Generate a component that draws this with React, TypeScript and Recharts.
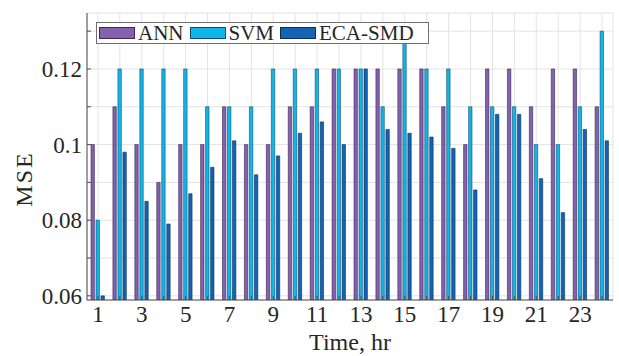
import React from 'react';
import { BarChart, Bar, XAxis, YAxis, CartesianGrid, Legend } from 'recharts';

const hours = ['1','2','3','4','5','6','7','8','9','10','11','12','13','14','15','16','17','18','19','20','21','22','23','24'];
const annValues = [0.10,0.11,0.10,0.09,0.10,0.10,0.11,0.10,0.10,0.11,0.11,0.12,0.12,0.12,0.12,0.12,0.11,0.10,0.12,0.12,0.11,0.12,0.12,0.11];
const svmValues = [0.08,0.12,0.12,0.12,0.12,0.11,0.11,0.11,0.12,0.12,0.12,0.12,0.12,0.11,0.127,0.12,0.12,0.11,0.11,0.11,0.10,0.10,0.11,0.13];
const ecaValues = [0.06,0.098,0.085,0.079,0.087,0.094,0.101,0.092,0.097,0.103,0.106,0.10,0.12,0.104,0.103,0.102,0.099,0.088,0.108,0.108,0.091,0.082,0.104,0.101];
const yTicks = [0.06,0.07,0.08,0.09,0.1,0.11,0.12,0.13];
const yTickLabels = ['0.06','','0.08','','0.1','','0.12',''];
const seriesNames = ['ANN','SVM','ECA-SMD'];
const seriesFill = ['#8461ad','#12b5e8','#1563b3'];
const seriesEdge = ['#3b2758','#0d4f6e','#0b2f5c'];

const data = hours.map((h, i) => ({ hour: h, ANN: annValues[i], SVM: svmValues[i], ECA: ecaValues[i] }));
const keys = ['ANN', 'SVM', 'ECA'];

const FONT = "'Liberation Serif', 'Times New Roman', serif";
const AXIS = '#4d4d4d';
const TXT = '#262626';
const yDomain = [0.0589, 0.1348];
const tickStyle = { fontFamily: FONT, fontSize: 23 };

const yFmt = (v: number) => {
  const idx = yTicks.findIndex((t) => Math.abs(t - v) < 1e-6);
  return idx >= 0 ? yTickLabels[idx] : '';
};
const xFmt = (v: string, i: number) => (i % 2 === 0 ? v : '');
const blank = () => '';

const LegendBox = () => (
  <div
    style={{
      display: 'flex',
      alignItems: 'center',
      background: '#fff',
      border: '1px solid #6e6e6e',
      height: 22,
      padding: '0 14px 0 2px',
      fontFamily: FONT,
      fontSize: 21,
      color: TXT,
      whiteSpace: 'nowrap',
      boxSizing: 'border-box',
    }}
  >
    {seriesNames.map((n, i) => (
      <div key={n} style={{ display: 'flex', alignItems: 'center', marginRight: i < 2 ? 6 : 0 }}>
        <div
          style={{
            width: 34,
            height: 10,
            background: seriesFill[i],
            border: `1px solid ${seriesEdge[i]}`,
            marginRight: 3,
          }}
        />
        <span style={{ lineHeight: '22px' }}>{n}</span>
      </div>
    ))}
  </div>
);

const MseLabel = () => (
  <text
    x={32}
    y={179}
    transform="rotate(-90, 32, 179)"
    textAnchor="middle"
    fill={TXT}
    style={{ fontFamily: FONT, fontSize: 24, letterSpacing: 2 }}
  >
    MSE
  </text>
);

const TimeLabel = () => (
  <text
    x={350}
    y={350}
    textAnchor="middle"
    fill={TXT}
    style={{ fontFamily: FONT, fontSize: 24 }}
  >
    Time, hr
  </text>
);

export default function App() {
  return (
    <div style={{ position: 'absolute', left: 0, top: 0, width: 619, height: 356, background: '#fff' }}>
      <BarChart
        width={619}
        height={356}
        data={data}
        margin={{ top: 13, right: 6, bottom: 0, left: 0 }}
        barSize={3.4}
        barGap={1.6}
      >
        <CartesianGrid stroke="#e3e3e3" strokeWidth={1} />
        <XAxis
          dataKey="hour"
          height={56}
          interval={0}
          tickFormatter={xFmt}
          tickSize={-4}
          tickMargin={10}
          stroke={AXIS}
          tick={{ fill: TXT, style: tickStyle, fontFamily: FONT, fontSize: 23 }}
          label={<TimeLabel />}
        />
        <XAxis
          xAxisId="top"
          dataKey="hour"
          orientation="top"
          height={0}
          interval={0}
          tickFormatter={blank}
          tickSize={-4}
          stroke={AXIS}
        />
        <YAxis
          width={87}
          domain={yDomain}
          allowDataOverflow
          ticks={yTicks}
          interval={0}
          tickFormatter={yFmt}
          tickSize={-4}
          tickMargin={9}
          stroke={AXIS}
          tick={{ fill: TXT, style: tickStyle, fontFamily: FONT, fontSize: 23 }}
          label={<MseLabel />}
        />
        <YAxis
          yAxisId="right"
          orientation="right"
          width={0}
          domain={yDomain}
          allowDataOverflow
          ticks={yTicks}
          interval={0}
          tickFormatter={blank}
          tickSize={-4}
          stroke={AXIS}
        />
        <Legend
          layout="vertical"
          align="center"
          verticalAlign="middle"
          content={() => <LegendBox />}
          wrapperStyle={{ left: 96, top: 22, width: 'auto', height: 'auto' }}
        />
        {keys.map((k, i) => (
          <Bar
            key={k}
            dataKey={k}
            name={seriesNames[i]}
            fill={seriesFill[i]}
            stroke={seriesEdge[i]}
            strokeWidth={0.6}
            isAnimationActive={false}
          />
        ))}
      </BarChart>
    </div>
  );
}
